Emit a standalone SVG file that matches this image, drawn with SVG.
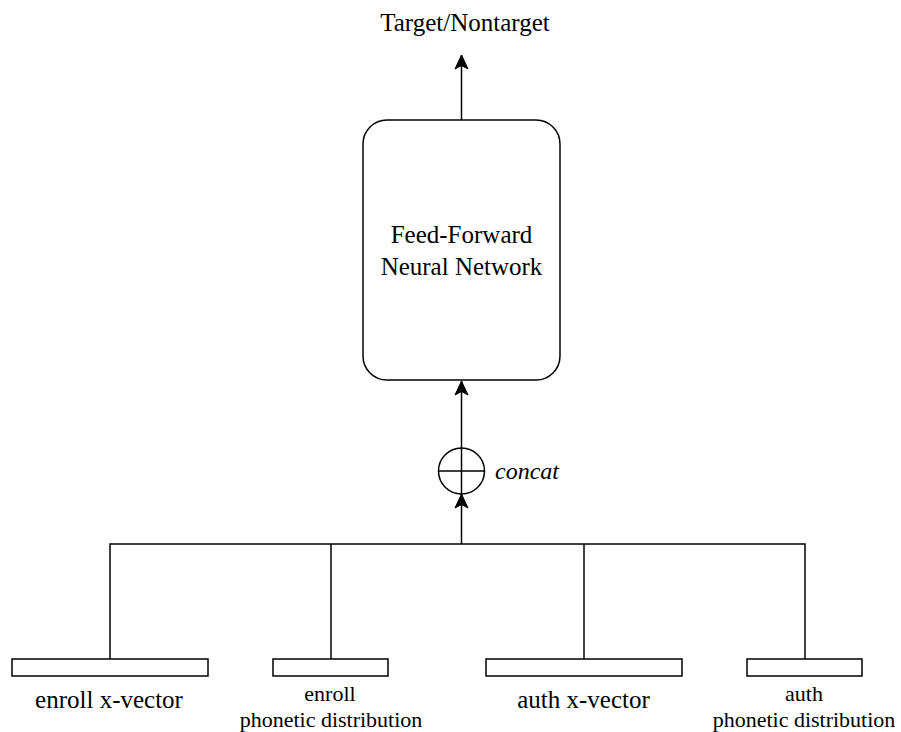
<svg xmlns="http://www.w3.org/2000/svg" width="901" height="732" viewBox="0 0 901 732">
  <style>
    .ln { fill: none; stroke: #000; stroke-width: 1.5; }
    .box { fill: #fff; stroke: #000; stroke-width: 1.5; }
    text { font-family: "Liberation Serif", "Times New Roman", serif; fill: #000; text-anchor: middle; }
    .big { font-size: 25px; }
    .small { font-size: 22px; }
    .it { font-style: italic; text-anchor: start; font-size: 24px; }
  </style>
  <defs>
    <marker id="arr" markerUnits="userSpaceOnUse" markerWidth="16" markerHeight="16" viewBox="0 0 16 16" refX="15" refY="8" orient="auto">
      <path d="M1,1.5 L15,8 L1,14.5 L4.5,8 Z" fill="#000" stroke="#000" stroke-width="1"/>
    </marker>
  </defs>

  <g id="connectors">
    <!-- input bus -->
    <polyline class="ln" points="110,659 110,544 805,544 805,659"/>
    <line class="ln" x1="331" y1="544" x2="331" y2="659"/>
    <line class="ln" x1="584" y1="544" x2="584" y2="659"/>
    <!-- bus to concat -->
    <line class="ln" x1="461.5" y1="544" x2="461.5" y2="494" marker-end="url(#arr)"/>
    <!-- concat to network -->
    <line class="ln" x1="461.5" y1="448" x2="461.5" y2="381" marker-end="url(#arr)"/>
    <!-- network to output -->
    <line class="ln" x1="461.5" y1="120" x2="461.5" y2="55" marker-end="url(#arr)"/>
  </g>

  <g id="output">
    <text class="big" x="465" y="31">Target/Nontarget</text>
  </g>

  <g id="ffnn">
    <rect class="box" x="363" y="120" width="197" height="260" rx="24" ry="24"/>
    <text class="big" x="461.5" y="243">Feed-Forward</text>
    <text class="big" x="461.5" y="275">Neural Network</text>
  </g>

  <g id="concat">
    <circle class="box" cx="461.5" cy="471" r="23"/>
    <line class="ln" x1="438.5" y1="471" x2="484.5" y2="471"/>
    <line class="ln" x1="461.5" y1="448" x2="461.5" y2="494"/>
    <text class="it" x="495" y="479">concat</text>
  </g>

  <g id="enroll-xvector">
    <rect class="box" x="12" y="659" width="196" height="17"/>
    <text class="big" x="109" y="708">enroll x-vector</text>
  </g>

  <g id="enroll-phonetic">
    <rect class="box" x="273" y="659" width="115" height="17"/>
    <text class="small" x="330" y="701">enroll</text>
    <text class="small" x="331" y="727">phonetic distribution</text>
  </g>

  <g id="auth-xvector">
    <rect class="box" x="486" y="659" width="196" height="17"/>
    <text class="big" x="583.5" y="708">auth x-vector</text>
  </g>

  <g id="auth-phonetic">
    <rect class="box" x="747" y="659" width="115" height="17"/>
    <text class="small" x="804" y="701">auth</text>
    <text class="small" x="804" y="727">phonetic distribution</text>
  </g>
</svg>
